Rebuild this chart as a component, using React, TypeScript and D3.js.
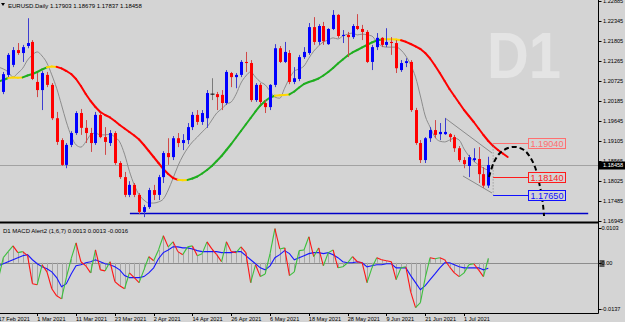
import React from "react";
import * as d3 from "d3";

// trading days shown on the chart (Feb 17 .. Jul 8 2021)
const dates = d3.timeDay
  .range(new Date(2021, 1, 17), new Date(2021, 6, 9))
  .filter((d) => d.getDay() !== 0 && d.getDay() !== 6);

const opens = [
  1.2105, 1.2043, 1.2089, 1.2116, 1.2156, 1.2148, 1.2167, 1.2178, 1.2070, 1.2048,
  1.2089, 1.2062, 1.1972, 1.1913, 1.1846, 1.1900, 1.1932, 1.1986, 1.1946, 1.1932,
  1.1905, 1.1981, 1.1921, 1.1905, 1.1932, 1.1851, 1.1813, 1.1765, 1.1792, 1.1765,
  1.1719, 1.1732, 1.1778, 1.1765, 1.1813, 1.1878, 1.1867, 1.1918, 1.1905, 1.1913,
  1.1948, 1.1981, 1.1962, 1.1972, 1.2037, 1.2037, 1.2035, 1.2013, 1.2094, 1.2083,
  1.2089, 1.2124, 1.2121, 1.2021, 1.2062, 1.2013, 1.2002, 1.2062, 1.2161, 1.2124,
  1.2148, 1.2070, 1.2078, 1.2137, 1.2148, 1.2218, 1.2178, 1.2221, 1.2172, 1.2213,
  1.2251, 1.2194, 1.2197, 1.2191, 1.2221, 1.2213, 1.2205, 1.2124, 1.2164, 1.2189,
  1.2170, 1.2178, 1.2175, 1.2102, 1.2121, 1.2124, 1.1994, 1.1905, 1.1859, 1.1918,
  1.1940, 1.1929, 1.1929, 1.1929, 1.1921, 1.1891, 1.1859, 1.1843, 1.1859, 1.1862,
  1.1821, 1.17903,
];
const highs = [
  1.2110, 1.2097, 1.2148, 1.2164, 1.2175, 1.2170, 1.2242, 1.2183, 1.2094, 1.2099,
  1.2097, 1.2067, 1.1989, 1.1918, 1.1905, 1.1937, 1.1991, 1.1997, 1.1967, 1.1946,
  1.1989, 1.1986, 1.1948, 1.1940, 1.1937, 1.1856, 1.1827, 1.1802, 1.1797, 1.1770,
  1.1738, 1.1784, 1.1792, 1.1819, 1.1883, 1.1918, 1.1924, 1.1932, 1.1929, 1.1959,
  1.1989, 1.1994, 1.1994, 1.2048, 1.2080, 1.2043, 1.2048, 1.2102, 1.2097, 1.2094,
  1.2129, 1.2151, 1.2129, 1.2067, 1.2067, 1.2021, 1.2064, 1.2172, 1.2167, 1.2178,
  1.2156, 1.2110, 1.2143, 1.2164, 1.2229, 1.2245, 1.2226, 1.2232, 1.2215, 1.2264,
  1.2253, 1.2210, 1.2205, 1.2226, 1.2253, 1.2224, 1.2210, 1.2170, 1.2202, 1.2191,
  1.2215, 1.2191, 1.2183, 1.2129, 1.2134, 1.2129, 1.2000, 1.1913, 1.1921, 1.1948,
  1.1967, 1.1959, 1.1972, 1.1932, 1.1927, 1.1897, 1.1867, 1.1873, 1.1891, 1.1894,
  1.1840, 1.18679,
];
const lows = [
  1.2023, 1.2037, 1.2083, 1.2110, 1.2143, 1.2124, 1.2161, 1.2075, 1.2029, 1.1994,
  1.2056, 1.1967, 1.1900, 1.1843, 1.1837, 1.1894, 1.1927, 1.1927, 1.1905, 1.1881,
  1.1900, 1.1918, 1.1873, 1.1897, 1.1846, 1.1808, 1.1759, 1.1759, 1.1759, 1.1713,
  1.1705, 1.1727, 1.1751, 1.1751, 1.1797, 1.1846, 1.1859, 1.1894, 1.1886, 1.1902,
  1.1940, 1.1954, 1.1954, 1.1946, 1.2021, 1.1994, 1.1994, 1.2008, 1.2056, 1.2053,
  1.2083, 1.2097, 1.2016, 1.2016, 1.2010, 1.1986, 1.1994, 1.2056, 1.2121, 1.2121,
  1.2064, 1.2064, 1.2072, 1.2132, 1.2143, 1.2170, 1.2170, 1.2170, 1.2170, 1.2210,
  1.2189, 1.2175, 1.2137, 1.2186, 1.2210, 1.2183, 1.2121, 1.2102, 1.2156, 1.2164,
  1.2164, 1.2143, 1.2094, 1.2097, 1.2110, 1.1989, 1.1900, 1.1851, 1.1851, 1.1908,
  1.1918, 1.1913, 1.1927, 1.1908, 1.1881, 1.1854, 1.1837, 1.1813, 1.1854, 1.1797,
  1.1784, 1.17837,
];
const closes = [
  1.2040, 1.2091, 1.2143, 1.2156, 1.2148, 1.2164, 1.2175, 1.2078, 1.2048, 1.2094,
  1.2062, 1.1972, 1.1908, 1.1846, 1.1900, 1.1932, 1.1986, 1.1946, 1.1932, 1.1905,
  1.1981, 1.1921, 1.1908, 1.1932, 1.1851, 1.1813, 1.1765, 1.1792, 1.1765, 1.1719,
  1.1732, 1.1778, 1.1765, 1.1813, 1.1878, 1.1867, 1.1918, 1.1905, 1.1913, 1.1948,
  1.1981, 1.1962, 1.1986, 1.2040, 1.2037, 1.2029, 1.2013, 1.2097, 1.2083, 1.2089,
  1.2124, 1.2121, 1.2021, 1.2062, 1.2016, 1.2002, 1.2062, 1.2161, 1.2124, 1.2151,
  1.2070, 1.2080, 1.2137, 1.2151, 1.2218, 1.2178, 1.2221, 1.2180, 1.2213, 1.2251,
  1.2194, 1.2197, 1.2191, 1.2221, 1.2213, 1.2205, 1.2124, 1.2164, 1.2189, 1.2170,
  1.2178, 1.2175, 1.2107, 1.2121, 1.2126, 1.1994, 1.1905, 1.1859, 1.1918, 1.1940,
  1.1927, 1.1935, 1.1935, 1.1921, 1.1891, 1.1859, 1.1848, 1.1867, 1.1864, 1.1821,
  1.1790, 1.18458,
];

// thin grey moving average
const grayMa = [
  1.2110, 1.2105, 1.2097, 1.2083, 1.2094, 1.2107, 1.2129, 1.2143, 1.2151, 1.2140,
  1.2121, 1.2089, 1.2053, 1.2008, 1.1962, 1.1924, 1.1900, 1.1894, 1.1908, 1.1927,
  1.1932, 1.1927, 1.1927, 1.1929, 1.1921, 1.1908, 1.1875, 1.1829, 1.1792, 1.1765,
  1.1751, 1.1743, 1.1743, 1.1746, 1.1754, 1.1778, 1.1810, 1.1843, 1.1870, 1.1891,
  1.1908, 1.1921, 1.1935, 1.1948, 1.1967, 1.1986, 1.1997, 1.2010, 1.2016, 1.2037,
  1.2067, 1.2086, 1.2097, 1.2083, 1.2070, 1.2062, 1.2045, 1.2029, 1.2026, 1.2053,
  1.2080, 1.2099, 1.2105, 1.2113, 1.2134, 1.2153, 1.2167, 1.2178, 1.2183, 1.2189,
  1.2186, 1.2194, 1.2199, 1.2202, 1.2197, 1.2199, 1.2197, 1.2194, 1.2178, 1.2167,
  1.2164, 1.2164, 1.2164, 1.2156, 1.2140, 1.2116, 1.2083, 1.2032, 1.1978, 1.1948,
  1.1921, 1.1910, 1.1908, 1.1913, 1.1918, 1.1913, 1.1889, 1.1870, 1.1856, 1.1846,
  1.1837, 1.1832,
];

// thick coloured moving average (shifted 4 bars forward)
const colorMa = [
  1.20712, 1.20752, 1.20806, 1.20820, 1.20814, 1.20822, 1.20874, 1.20914, 1.20968, 1.21036,
  1.21095, 1.21114, 1.21106, 1.21065, 1.20995, 1.20914, 1.20779, 1.20590, 1.20374, 1.20185,
  1.20023, 1.19888, 1.19807, 1.19740, 1.19645, 1.19537, 1.19443, 1.19348, 1.19254, 1.19146,
  1.18997, 1.18835, 1.18673, 1.18511, 1.18349, 1.18214, 1.18106, 1.18057, 1.18047, 1.18055,
  1.18093, 1.18147, 1.18228, 1.18322, 1.18430, 1.18565, 1.18700, 1.18862, 1.19024, 1.19200,
  1.19375, 1.19551, 1.19726, 1.19902, 1.20064, 1.20185, 1.20280, 1.20325, 1.20339, 1.20350,
  1.20363, 1.20442, 1.20550, 1.20644, 1.20698, 1.20739, 1.20793, 1.20874, 1.20968, 1.21076,
  1.21198, 1.21306, 1.21414, 1.21495, 1.21562, 1.21630, 1.21697, 1.21765, 1.21819, 1.21846,
  1.21854, 1.21854, 1.21843, 1.21824, 1.21783, 1.21724, 1.21657, 1.21589, 1.21481, 1.21333,
  1.21144, 1.20941, 1.20725, 1.20509, 1.20320, 1.20131, 1.19942, 1.19780, 1.19618, 1.19443,
  1.19267, 1.19105, 1.18970, 1.18862, 1.18768, 1.18673,
];

const macdMain = [
  -0.0047, 0.0015, 0.0033, 0.0050, 0.0030, 0.0033, 0.0021, -0.0062, -0.0065, -0.0006,
  -0.0027, -0.0077, -0.0098, -0.0107, -0.0044, 0.0012, 0.0059, 0.0003, -0.0009, -0.0030,
  0.0038, -0.0021, -0.0024, 0.0003, -0.0056, -0.0068, -0.0077, -0.0030, -0.0044, -0.0059,
  -0.0021, 0.0018, 0.0006, 0.0038, 0.0080, 0.0047, 0.0062, 0.0033, 0.0024, 0.0047,
  0.0050, 0.0021, 0.0027, 0.0062, 0.0041, 0.0024, 0.0003, 0.0062, 0.0033, 0.0030,
  0.0047, 0.0030, -0.0059, -0.0006, -0.0041, -0.0033, 0.0027, 0.0101, 0.0041, 0.0044,
  -0.0038, -0.0027, 0.0036, 0.0038, 0.0077, 0.0018, 0.0044, -0.0009, 0.0030, 0.0038,
  -0.0015, -0.0012, 0.0000, 0.0018, 0.0003, 0.0000, -0.0059, -0.0015, 0.0015, 0.0009,
  0.0006, 0.0003, -0.0050, -0.0015, -0.0012, -0.0086, -0.0133, -0.0118, -0.0044, 0.0015,
  0.0012, 0.0015, 0.0009, -0.0012, -0.0030, -0.0041, -0.0030, -0.0006, -0.0003, -0.0021,
  -0.0041, 0.0013,
];
const macdSignal = [
  -0.0009, -0.0003, 0.0003, 0.0009, 0.0015, 0.0021, 0.0024, 0.0009, -0.0003, -0.0012,
  -0.0018, -0.0027, -0.0044, -0.0071, -0.0062, -0.0033, -0.0009, -0.0006, 0.0000, 0.0003,
  0.0009, 0.0003, -0.0003, -0.0006, -0.0012, -0.0021, -0.0038, -0.0044, -0.0044, -0.0044,
  -0.0041, -0.0030, -0.0015, 0.0012, 0.0030, 0.0038, 0.0047, 0.0047, 0.0044, 0.0044,
  0.0041, 0.0036, 0.0033, 0.0033, 0.0033, 0.0033, 0.0030, 0.0030, 0.0030, 0.0033,
  0.0033, 0.0021, 0.0009, -0.0003, -0.0015, -0.0021, -0.0009, 0.0015, 0.0024, 0.0036,
  0.0027, 0.0009, 0.0015, 0.0021, 0.0027, 0.0030, 0.0030, 0.0027, 0.0030, 0.0024,
  0.0015, 0.0003, 0.0000, 0.0000, 0.0003, 0.0000, -0.0012, -0.0009, -0.0006, -0.0006,
  -0.0003, -0.0003, -0.0015, -0.0015, -0.0015, -0.0038, -0.0059, -0.0080, -0.0068, -0.0050,
  -0.0033, -0.0015, 0.0000, 0.0000, -0.0006, -0.0012, -0.0015, -0.0015, -0.0015, -0.0015,
  -0.0021, -0.0016,
];

const xTickLabels = [
  "17 Feb 2021", "1 Mar 2021", "11 Mar 2021", "23 Mar 2021", "2 Apr 2021", "14 Apr 2021",
  "26 Apr 2021", "6 May 2021", "18 May 2021", "28 May 2021", "9 Jun 2021", "21 Jun 2021", "1 Jul 2021",
];
const priceTicks = [
  1.22885, 1.22345, 1.21805, 1.21265, 1.20725, 1.20185, 1.19645, 1.19105, 1.18565, 1.18025, 1.17485, 1.16945,
];
const macdTicks = [0.0103, 0, -0.0137];
const macdTickLabels = ["0.0103", "0.00", "-0.0137"];

const quote = [1.17903, 1.18679, 1.17837, 1.18458];
const macdHeader = [0.0013, 0.0013, -0.0016];

// drawn objects (bar index, price)
const supportLevel = 1.1716;
const supportFrom = 27.1;
const supportTo = 121.6;
const levelPrices = [1.1904, 1.1814, 1.1765];
const levelColors = ["#ff6f6f", "#ff1a1a", "#1010ff"];
const channelTop: [number, number][] = [[92.07, 1.19726], [101.76, 1.18781]];
const channelBottom: [number, number][] = [[95.78, 1.1816], [101.76, 1.17701]];
const forecastArc: [number, number][] = [
  [101.14, 1.18133], [102.18, 1.18538], [103.41, 1.18781], [105.06, 1.18916],
  [106.71, 1.18943], [108.36, 1.18862], [109.6, 1.18673], [110.63, 1.18403],
  [111.25, 1.18106], [111.87, 1.17728], [112.28, 1.17377], [112.49, 1.1708],
];

const FONT = "'Liberation Sans', Arial, sans-serif";
const BG = "#d4d4d4";

export default function App() {
  const W = 625;
  const H = 322;
  const axisX = 598.5;

  const x = d3.scaleLinear().domain([1, 101]).range([3.3, 488.3]);
  const y = d3.scaleLinear().domain([1.16945, 1.22885]).range([221, 1]);
  const ym = d3.scaleLinear().domain([-0.0137, 0.0103]).range([309, 228]);
  const px = (k: number) => Math.round(x(k)) + 0.5;

  const fmt = d3.timeFormat("%-d %b %Y");
  const dateIndex = new Map(dates.map((d, k) => [fmt(d), k]));

  const grayPath = d3
    .line<number>()
    .x((_, k) => x(k))
    .y((v) => y(v))
    .curve(d3.curveMonotoneX)(grayMa);
  const ptLine = d3.line<[number, number]>().x((d) => x(d[0])).y((d) => y(d[1]));
  const arcPath = d3
    .line<[number, number]>()
    .x((d) => x(d[0]))
    .y((d) => y(d[1]))
    .curve(d3.curveCatmullRom)(forecastArc);
  const signalPath = d3
    .line<number>()
    .x((_, k) => x(k))
    .y((v) => ym(v))(macdSignal);

  const maColor = (k: number) => {
    const d = colorMa[k] - colorMa[k - 1];
    return d > 0.0002 ? "#1fae1f" : d < -0.0002 ? "#ff0000" : "#ffd800";
  };

  const bid = quote[3];
  const levelX0 = x(102);
  const levelX1 = x(109.2);

  return (
    <div style={{ position: "fixed", left: 0, top: 0 }}>
      <svg width={W} height={H} style={{ display: "block" }}>
        <defs>
          <clipPath id="main">
            <rect x={0} y={0} width={axisX} height={221} />
          </clipPath>
          <clipPath id="sub">
            <rect x={0} y={224} width={axisX} height={89} />
          </clipPath>
        </defs>
        <rect x={0} y={0} width={W} height={H} fill={BG} />

        {/* watermark */}
        <text
          x={487}
          y={78}
          fontFamily={FONT}
          fontWeight="bold"
          fontSize={64}
          fill="#e4e4e4"
          textLength={74}
          lengthAdjust="spacingAndGlyphs"
        >
          D1
        </text>

        <g clipPath="url(#main)">
          <line x1={0} x2={axisX} y1={Math.round(y(bid)) + 0.5} y2={Math.round(y(bid)) + 0.5} stroke="#a2a2a2" />
          <line
            x1={x(supportFrom)}
            x2={x(supportTo)}
            y1={Math.round(y(supportLevel)) + 0.5}
            y2={Math.round(y(supportLevel)) + 0.5}
            stroke="#0000c8"
            strokeWidth={1.5}
          />
          <path d={grayPath || ""} fill="none" stroke="#8c8c8c" strokeWidth={1} />
          <path d={ptLine(channelTop) || ""} fill="none" stroke="#8a8a8a" strokeWidth={1} />
          <path d={ptLine(channelBottom) || ""} fill="none" stroke="#8a8a8a" strokeWidth={1} />

          {colorMa.slice(1).map((v, j) => {
            const k = j + 1;
            return (
              <line
                key={"ma" + k}
                x1={x(k - 1)}
                y1={y(colorMa[k - 1])}
                x2={x(k)}
                y2={y(v)}
                stroke={maColor(k)}
                strokeWidth={2}
                strokeLinecap="round"
              />
            );
          })}

          {dates.map((d, k) => {
            const o = opens[k];
            const c = closes[k];
            const up = c > o;
            const cx = px(k);
            const top = Math.min(y(o), y(c));
            const bot = Math.max(y(o), y(c));
            return (
              <g key={"c" + k}>
                <line
                  x1={cx}
                  x2={cx}
                  y1={y(highs[k])}
                  y2={y(lows[k])}
                  stroke={o === c ? "#7a7a7a" : up ? "#3c3cd0" : "#d04848"}
                />
                {o === c ? (
                  <line x1={cx - 2} x2={cx + 2} y1={top} y2={top} stroke="#000" />
                ) : (
                  <rect
                    x={cx - 1.5}
                    y={top}
                    width={3}
                    height={Math.max(1, bot - top)}
                    fill={up ? "#0000ff" : "#ff0000"}
                  />
                )}
              </g>
            );
          })}

          {/* level lines and labels */}
          <line
            x1={levelX0}
            x2={levelX0}
            y1={y(levelPrices[0])}
            y2={y(levelPrices[2])}
            stroke="#8a8a8a"
            strokeDasharray="1,2"
          />
          {levelPrices.map((p, j) => (
            <line
              key={"lv" + j}
              x1={levelX0}
              x2={levelX1}
              y1={Math.round(y(p)) + 0.5}
              y2={Math.round(y(p)) + 0.5}
              stroke={levelColors[j]}
            />
          ))}
          <path d={arcPath || ""} fill="none" stroke="#000" strokeWidth={2} strokeDasharray="5,3" />
          {levelPrices.map((p, j) => (
            <g key={"lb" + j}>
              <rect
                x={Math.round(levelX1) + 0.5}
                y={Math.round(y(p)) - 4.5}
                width={37}
                height={10}
                fill={BG}
                stroke={levelColors[j]}
              />
              <text
                x={Math.round(levelX1) + 2.5}
                y={Math.round(y(p)) + 3.6}
                fontFamily={FONT}
                fontSize={8.6}
                fill={levelColors[j]}
                textLength={33}
                lengthAdjust="spacingAndGlyphs"
              >
                {p.toFixed(5)}
              </text>
            </g>
          ))}
        </g>

        {/* header */}
        <path d="M1,3 L5,3 L3,6 Z" fill="#000" />
        <text x={8} y={7.5} fontFamily={FONT} fontSize={6} fill="#000">
          {"EURUSD.Daily  " + quote.map((q) => q.toFixed(5)).join(" ")}
        </text>

        {/* frame lines */}
        <line x1={axisX} x2={axisX} y1={0} y2={313.5} stroke="#000" />
        <line x1={0} x2={axisX} y1={222.5} y2={222.5} stroke="#000" strokeWidth={2} />
        <line x1={0} x2={axisX} y1={313.5} y2={313.5} stroke="#000" />

        {/* price axis */}
        {priceTicks.map((t) => (
          <g key={"pt" + t}>
            <line x1={axisX} x2={axisX + 3} y1={Math.round(y(t)) + 0.5} y2={Math.round(y(t)) + 0.5} stroke="#000" />
            <text x={603} y={y(t) + 2.1} fontFamily={FONT} fontSize={5.6} fill="#000">
              {t.toFixed(5)}
            </text>
          </g>
        ))}
        <rect x={axisX + 0.5} y={Math.round(y(bid)) - 3.5} width={W - axisX} height={8} fill="#000" />
        <text x={603} y={y(bid) + 2.3} fontFamily={FONT} fontSize={5.6} fill="#fff">
          {bid.toFixed(5)}
        </text>

        {/* MACD panel */}
        <g clipPath="url(#sub)">
          <line x1={0} x2={axisX} y1={Math.round(ym(0)) + 0.5} y2={Math.round(ym(0)) + 0.5} stroke="#8c8c8c" />
          {macdMain.map((v, k) => (
            <line
              key={"h" + k}
              x1={px(k)}
              x2={px(k)}
              y1={ym(0)}
              y2={ym(v)}
              stroke="#a6a6a6"
            />
          ))}
          <path d={signalPath || ""} fill="none" stroke="#1818ff" strokeWidth={1.1} />
          {macdMain.slice(1).map((v, j) => {
            const k = j + 1;
            return (
              <line
                key={"m" + k}
                x1={x(k - 1)}
                y1={ym(macdMain[k - 1])}
                x2={x(k)}
                y2={ym(v)}
                stroke={v >= macdMain[k - 1] ? "#3cbf3c" : "#ff1414"}
                strokeWidth={1.1}
              />
            );
          })}
        </g>
        <text x={3} y={232.5} fontFamily={FONT} fontSize={6} fill="#000">
          {"D1 MACD Alert2 (1,6,7) " + macdHeader.map((v) => v.toFixed(4)).join(" ")}
        </text>
        <rect x={axisX + 1} y={Math.round(ym(0)) - 3} width={5} height={7} fill="#5a5a5a" />
        {macdTicks.map((t, j) => (
          <g key={"mt" + j}>
            <line x1={axisX} x2={axisX + 3} y1={Math.round(ym(t)) + 0.5} y2={Math.round(ym(t)) + 0.5} stroke="#000" />
            <text x={601.5} y={ym(t) + 2.1} fontFamily={FONT} fontSize={5.6} fill="#000">
              {macdTickLabels[j]}
            </text>
          </g>
        ))}

        {/* time axis */}
        {xTickLabels.map((lab) => {
          const k = dateIndex.get(lab);
          if (k === undefined) return null;
          return (
            <g key={lab}>
              <line x1={px(k)} x2={px(k)} y1={313} y2={316} stroke="#000" />
              <text x={x(k)} y={320.5} fontFamily={FONT} fontSize={5.6} fill="#000">
                {lab}
              </text>
            </g>
          );
        })}
      </svg>
    </div>
  );
}
